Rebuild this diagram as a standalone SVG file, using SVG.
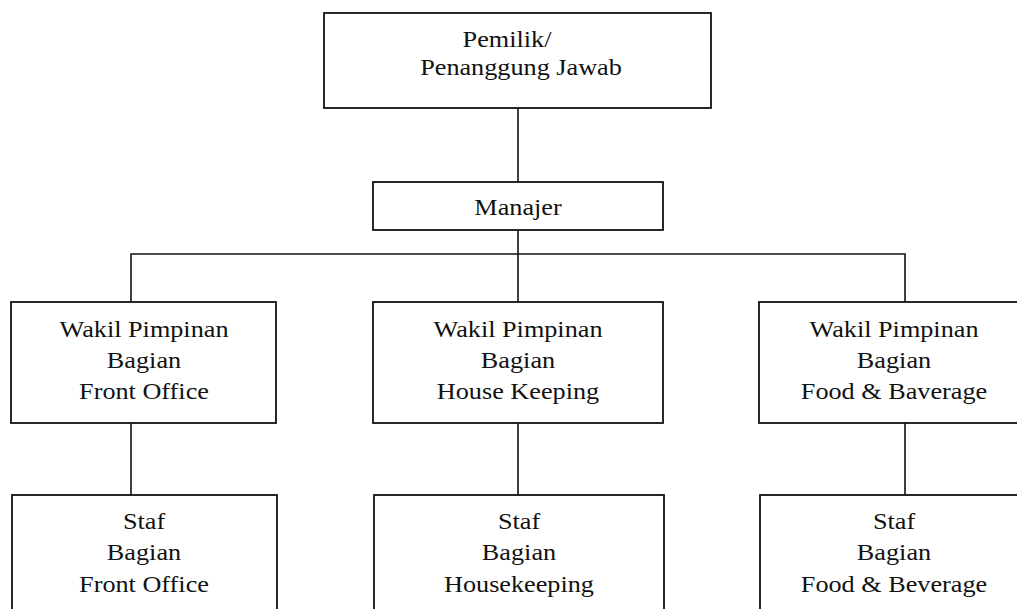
<svg xmlns="http://www.w3.org/2000/svg" width="1017" height="609" viewBox="0 0 1017 609">
<style>
.box{fill:#fff;stroke:#111;stroke-width:1.8}
.ln{fill:none;stroke:#111;stroke-width:1.6}
text{font-family:"Liberation Serif","Times New Roman",serif;font-size:23px;fill:#111;text-anchor:middle}
</style>
<rect width="1017" height="609" fill="#fff"/>
<g id="connectors">
<line class="ln" x1="518" y1="108" x2="518" y2="182"/>
<line class="ln" x1="518" y1="230" x2="518" y2="302"/>
<polyline class="ln" points="131,302 131,254 905,254 905,302"/>
<line class="ln" x1="131" y1="423" x2="131" y2="495"/>
<line class="ln" x1="518" y1="423" x2="518" y2="495"/>
<line class="ln" x1="905" y1="423" x2="905" y2="495"/>
</g>
<g id="pemilik">
<rect class="box" x="324" y="13" width="387" height="95"/>
<text transform="translate(507,47) scale(1.14,1)">Pemilik/</text>
<text transform="translate(521,75) scale(1.14,1)">Penanggung Jawab</text>
</g>
<g id="manajer">
<rect class="box" x="373" y="182" width="290" height="48"/>
<text transform="translate(518,215) scale(1.14,1)">Manajer</text>
</g>
<g id="wakil-fo">
<rect class="box" x="11" y="302" width="265" height="121"/>
<text transform="translate(144,337) scale(1.14,1)">Wakil Pimpinan</text>
<text transform="translate(144,368) scale(1.14,1)">Bagian</text>
<text transform="translate(144,399) scale(1.14,1)">Front Office</text>
</g>
<g id="wakil-hk">
<rect class="box" x="373" y="302" width="290" height="121"/>
<text transform="translate(518,337) scale(1.14,1)">Wakil Pimpinan</text>
<text transform="translate(518,368) scale(1.14,1)">Bagian</text>
<text transform="translate(518,399) scale(1.14,1)">House Keeping</text>
</g>
<g id="wakil-fb">
<rect class="box" x="759" y="302" width="270" height="121"/>
<text transform="translate(894,337) scale(1.14,1)">Wakil Pimpinan</text>
<text transform="translate(894,368) scale(1.14,1)">Bagian</text>
<text transform="translate(894,399) scale(1.14,1)">Food &amp; Baverage</text>
</g>
<g id="staf-fo">
<rect class="box" x="12" y="495" width="265" height="130"/>
<text transform="translate(144,529) scale(1.14,1)">Staf</text>
<text transform="translate(144,560) scale(1.14,1)">Bagian</text>
<text transform="translate(144,592) scale(1.14,1)">Front Office</text>
</g>
<g id="staf-hk">
<rect class="box" x="374" y="495" width="290" height="130"/>
<text transform="translate(519,529) scale(1.14,1)">Staf</text>
<text transform="translate(519,560) scale(1.14,1)">Bagian</text>
<text transform="translate(519,592) scale(1.14,1)">Housekeeping</text>
</g>
<g id="staf-fb">
<rect class="box" x="760" y="495" width="270" height="130"/>
<text transform="translate(894,529) scale(1.14,1)">Staf</text>
<text transform="translate(894,560) scale(1.14,1)">Bagian</text>
<text transform="translate(894,592) scale(1.14,1)">Food &amp; Beverage</text>
</g>
</svg>
